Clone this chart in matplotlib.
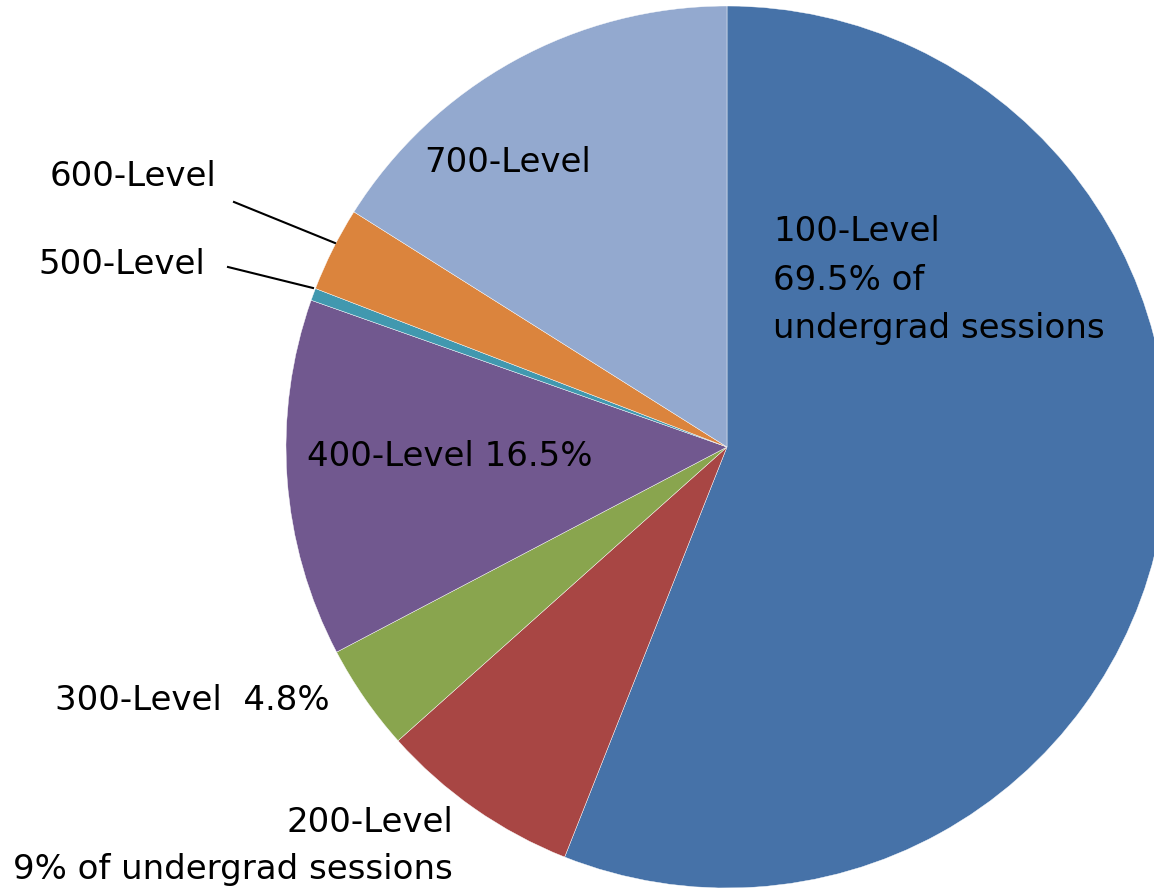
import matplotlib.pyplot as plt

levels = ['100-Level', '200-Level', '300-Level', '400-Level', '500-Level', '600-Level', '700-Level']
shares = [56.0, 7.4, 3.9, 13.1, 0.45, 3.1, 16.05]
colors = ['#4672A8', '#A84644', '#89A54E', '#71588F', '#4198AF', '#DB843D', '#93A9CF']

fig = plt.figure(figsize=(11.54, 8.93), dpi=100)
ax = fig.add_axes([0, 0, 1, 1])

# pie drawn in pixel space, centre and radius
cx, cy, r = 727, 446, 441
ax.pie(shares, colors=colors, startangle=90, counterclock=False,
       center=(cx, cy), radius=r, frame=True,
       wedgeprops=dict(edgecolor='white', linewidth=0.3))
ax.set_xlim(0, 1154)
ax.set_ylim(0, 893)
ax.set_aspect('equal')
ax.axis('off')

fs = 24.5
font = 'DejaVu Sans'
H = 893

def label(x, y, s, ha='left', va='center', ls=1.45):
    ax.text(x, H - y, s, fontsize=fs, family=font, ha=ha, va=va,
            linespacing=ls)

label(424, 162, '700-Level')
label(773, 280, '100-Level\n69.5% of\nundergrad sessions', ls=1.6)
label(50, 177, '600-Level')
label(38, 265, '500-Level')
label(307, 457, '400-Level 16.5%')
label(55, 700, '300-Level  4.8%')
label(453, 846, '200-Level\n9% of undergrad sessions', ha='right', ls=1.55)

# leader lines for the small slices
ax.plot([234, 335], [H - 202, H - 243], color='black', lw=1.5)
ax.plot([228, 313], [H - 267, H - 288], color='black', lw=1.5)

fig.savefig('out.png', dpi=100)
